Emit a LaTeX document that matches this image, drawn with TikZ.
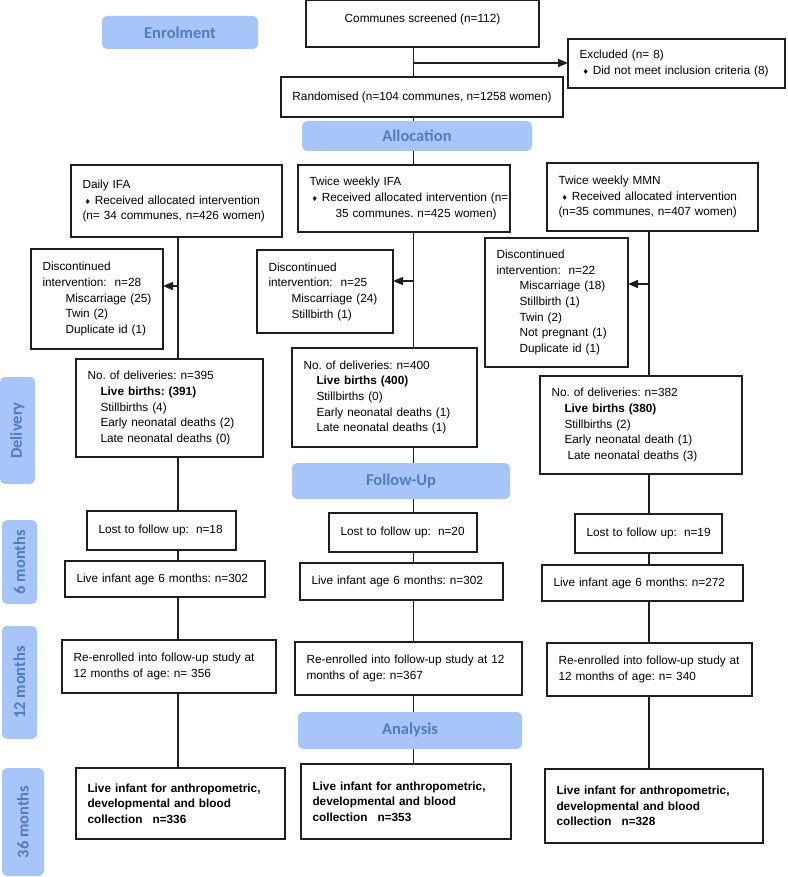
\documentclass[tikz,border=0pt]{standalone}
\usepackage{fontspec}
\setmainfont{Liberation Sans}
\newfontfamily\bannerfont{Carlito}
\newfontfamily\symfont{DejaVu Sans}
\usetikzlibrary{arrows.meta,backgrounds}
\definecolor{linec}{RGB}{30,30,30}
\definecolor{bannerfill}{RGB}{167,197,249}
\definecolor{bannertext}{RGB}{80,125,190}
\newcommand\fsz{\fontsize{11.8pt}{15.7pt}\selectfont\frenchspacing}
\newcommand\dm{{\symfont\fontsize{7pt}{7pt}\selectfont ♦}\hspace{4pt}}
\newcommand\ind{\hspace*{23pt}}
\newcommand\sind{\hspace*{13pt}}
\begin{document}
\begin{tikzpicture}[x=1pt,y=-1pt,
  box/.style={draw=linec, line width=1.3pt, fill=white, anchor=north west,
    inner xsep=11.5pt, inner ysep=0pt, outer sep=0pt, align=left, font=\fsz},
  bbox/.style={box, font=\fsz\bfseries},
  banner/.style={fill=bannerfill, rounded corners=5pt, text=bannertext,
    font=\bannerfont\bfseries\fontsize{16.5pt}{18pt}\selectfont, inner sep=0pt, outer sep=0pt},
  conn/.style={draw=linec, line width=1.4pt},
  arr/.style={-{Triangle[length=10pt,width=8pt]}}]
\useasboundingbox (0,0) rectangle (787,877);
\coordinate (c1) at (178,0);
\coordinate (c2) at (413.5,0);
\coordinate (c3) at (649,0);

% banners
\node[banner, minimum width=156pt, minimum height=33pt] (enrol) at (180,32.5) {Enrolment};
\node[banner, minimum width=230pt, minimum height=30pt] (alloc) at (417,136) {Allocation};
\node[banner, minimum width=218pt, minimum height=36pt] (follow) at (401,481) {Follow-Up};
\node[banner, minimum width=224pt, minimum height=37pt] (analysis) at (410,730.5) {Analysis};
\node[banner, rotate=90, minimum width=107pt, minimum height=35pt] (bdel) at (17.5,430.5) {Delivery};
\node[banner, rotate=90, minimum width=84pt, minimum height=35pt] (b6) at (19.5,562) {6 months};
\node[banner, rotate=90, minimum width=113pt, minimum height=35pt] (b12) at (19.5,682.5) {12 months};
\node[banner, rotate=90, minimum width=108pt, minimum height=42pt] (b36) at (23,822) {36 months};

% top
\node[box, inner xsep=0pt, align=center, minimum width=233pt, minimum height=47pt, text depth=11pt, text height=8.5pt] (scr) at (306,0) {Communes screened (n=112)};
\node[box, text width=194pt, minimum height=49pt] (excl) at (568,39) {Excluded (n= 8)\\\mbox{\hspace*{3pt}\dm Did not meet inclusion criteria (8)}};
\node[box, inner xsep=0pt, align=center, minimum width=282pt, minimum height=40pt] (rand) at (281,77) {Randomised (n=104 communes, n=1258 women)};

% arms
\node[box, text width=188pt, minimum height=72pt] (ifa1) at (71,165) {Daily IFA\\\mbox{\hspace*{2pt}\dm Received allocated intervention}\\\mbox{(n= 34 communes, n=426 women)}};
\node[box, text width=189pt, minimum height=67pt] (ifa2) at (298,165) {Twice weekly IFA\\\mbox{\hspace*{2pt}\dm Received allocated intervention (n=}\\\hspace*{26pt}35 communes. n=425 women)};
\node[box, text width=188pt, minimum height=68pt] (mmn) at (547,163) {Twice weekly MMN\\\mbox{\hspace*{3pt}\dm Received allocated intervention}\\\mbox{(n=35 communes, n=407 women)}};

% discontinued
\node[box, text width=109pt, minimum height=100pt] (disc1) at (31,249) {Discontinued\\intervention:~ n=28\\\ind Miscarriage (25)\\\ind Twin (2)\\\ind Duplicate id (1)};
\node[box, text width=113pt, minimum height=83pt] (disc2) at (257,250) {Discontinued\\intervention:~ n=25\\\ind Miscarriage (24)\\\ind Stillbirth (1)};
\node[box, text width=120pt, minimum height=129pt] (disc3) at (485,238) {Discontinued\\intervention:~ n=22\\\ind Miscarriage (18)\\\ind Stillbirth (1)\\\ind Twin (2)\\\ind Not pregnant (1)\\\ind Duplicate id (1)};

% deliveries
\node[box, text width=164pt, minimum height=98pt] (del1) at (76,359) {No. of deliveries: n=395\\\sind\textbf{Live births: (391)}\\\sind Stillbirths (4)\\\sind Early neonatal deaths (2)\\\sind Late neonatal deaths (0)};
\node[box, text width=162pt, minimum height=99pt] (del2) at (292,348) {No. of deliveries: n=400\\\sind\textbf{Live births (400)}\\\sind Stillbirths (0)\\\sind Early neonatal deaths (1)\\\sind Late neonatal deaths (1)};
\node[box, text width=179pt, minimum height=98pt] (del3) at (540,376) {No. of deliveries: n=382\\\sind\textbf{Live births (380)}\\\sind Stillbirths (2)\\\sind Early neonatal death (1)\\\hspace*{16pt}Late neonatal deaths (3)};

% lost
\node[box, text width=126pt, minimum height=39pt] (lost1) at (87,511) {\mbox{Lost to follow up:\hspace{7pt}n=18}};
\node[box, text width=125pt, minimum height=39pt] (lost2) at (329,513) {\mbox{Lost to follow up:\hspace{7pt}n=20}};
\node[box, text width=124pt, minimum height=39pt] (lost3) at (575,514) {\mbox{Lost to follow up:\hspace{7pt}n=19}};

% live 6 months
\node[box, text width=177pt, minimum height=36pt] (live1) at (65,561) {\mbox{Live infant age 6 months: n=302}};
\node[box, text width=180pt, minimum height=37pt] (live2) at (300,563) {\mbox{Live infant age 6 months: n=302}};
\node[box, text width=178pt, minimum height=36pt] (live3) at (542,565) {\mbox{Live infant age 6 months: n=272}};

% re-enrolled
\node[box, text width=191pt, minimum height=53pt] (re1) at (62,640) {Re-enrolled into follow-up study at\\12 months of age: n= 356};
\node[box, text width=204pt, minimum height=53pt] (re2) at (295,642) {\mbox{Re-enrolled into follow-up study at 12}\\months of age: n=367};
\node[box, text width=182pt, minimum height=53pt] (re3) at (547,643) {Re-enrolled into follow-up study at\\12 months of age: n= 340};

% final
\node[bbox, text width=186pt, minimum height=71pt] (fin1) at (76,768) {Live infant for anthropometric,\\developmental and blood\\collection\hspace{10pt}n=336};
\node[bbox, text width=187pt, minimum height=75pt] (fin2) at (301,764) {Live infant for anthropometric,\\developmental and blood\\collection\hspace{10pt}n=353};
\node[bbox, text width=195pt, minimum height=74pt] (fin3) at (545,769) {Live infant for anthropometric,\\developmental and blood\\collection\hspace{10pt}n=328};

\coordinate (exb) at (413.5,63);
\coordinate (a1) at (178,286);
\coordinate (a2) at (413.5,281);
\coordinate (a3) at (649,284);

\begin{scope}[on background layer]
\draw[conn] (scr.south -| c2) -- (rand.north -| c2);
\draw[conn,arr] (exb) -- (exb -| excl.west);
\draw[conn] (rand.south -| c2) -- (ifa2.north -| c2);
% column 1
\draw[conn] (ifa1.south -| c1) -- (del1.north -| c1);
\draw[conn,arr] (a1) -- (a1 -| disc1.east);
\draw[conn] (del1.south -| c1) -- (lost1.north -| c1);
\draw[conn] (lost1.south -| c1) -- (live1.north -| c1);
\draw[conn] (live1.south -| c1) -- (re1.north -| c1);
\draw[conn] (re1.south -| c1) -- (fin1.north -| c1);
% column 2
\draw[conn] (ifa2.south -| c2) -- (del2.north -| c2);
\draw[conn,arr] (a2) -- (a2 -| disc2.east);
\draw[conn] (del2.south -| c2) -- (lost2.north -| c2);
\draw[conn] (lost2.south -| c2) -- (live2.north -| c2);
\draw[conn] (live2.south -| c2) -- (re2.north -| c2);
\draw[conn] (re2.south -| c2) -- (fin2.north -| c2);
% column 3
\draw[conn] (mmn.south -| c3) -- (del3.north -| c3);
\draw[conn,arr] (a3) -- (a3 -| disc3.east);
\draw[conn] (del3.south -| c3) -- (lost3.north -| c3);
\draw[conn] (lost3.south -| c3) -- (live3.north -| c3);
\draw[conn] (live3.south -| c3) -- (re3.north -| c3);
\draw[conn] (re3.south -| c3) -- (fin3.north -| c3);
\end{scope}
\end{tikzpicture}
\end{document}
